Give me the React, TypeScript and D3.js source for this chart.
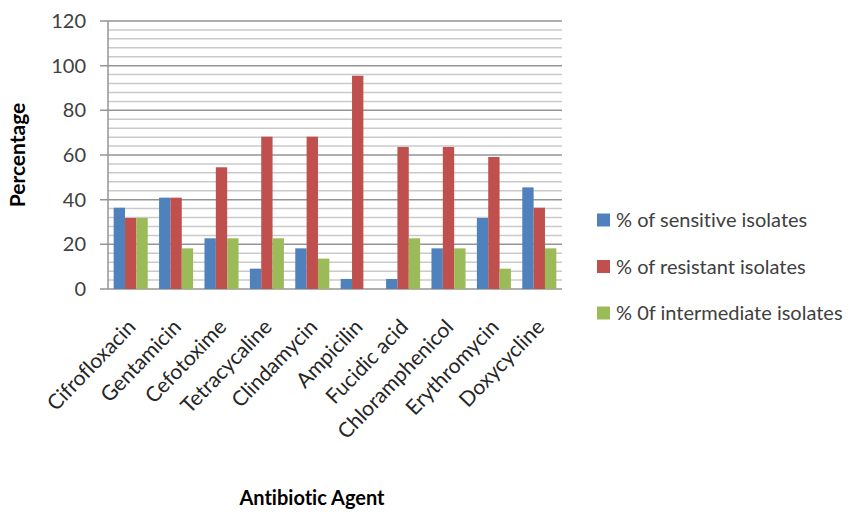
import React, { useRef, useEffect } from 'react';
import * as d3 from 'd3';

const agents = [
  'Cifrofloxacin', 'Gentamicin', 'Cefotoxime', 'Tetracycaline', 'Clindamycin',
  'Ampicilin', 'Fucidic acid', 'Chloramphenicol', 'Erythromycin', 'Doxycycline',
];
const sensitive = [36.4, 40.9, 22.7, 9.1, 18.2, 4.5, 4.5, 18.2, 31.8, 45.5];
const resistant = [31.8, 40.9, 54.5, 68.2, 68.2, 95.5, 63.6, 63.6, 59.1, 36.4];
const intermediate = [31.8, 18.2, 22.7, 22.7, 13.6, 0, 22.7, 18.2, 9.1, 18.2];
const seriesNames = ['% of sensitive isolates', '% of resistant isolates', '% 0f intermediate isolates'];
const seriesColors = ['#4F81BD', '#C0504D', '#9BBB59'];
const yTicks = [0, 20, 40, 60, 80, 100, 120];

const W = 858;
const H = 512;
const FONT = 'Lato, "Open Sans", sans-serif';

export default function App() {
  const svgRef = useRef<SVGSVGElement>(null);

  useEffect(() => {
    if (!svgRef.current) return;
    const svg = d3.select(svgRef.current);
    svg.selectAll('*').remove();

    const left = 108, right = 562, top = 21, bottom = 289;
    const x = d3.scaleBand<string>().domain(agents).range([left, right]);
    const y = d3.scaleLinear().domain([0, 120]).range([bottom, top]);
    const series = [sensitive, resistant, intermediate];
    const inner = d3.scaleBand<number>().domain([0, 1, 2])
      .range([0, x.bandwidth()]).paddingOuter(0.5);

    // minor grid every 4
    const minor = d3.range(0, 121, 4).filter((v) => v % 20 !== 0);
    svg.append('g').selectAll('line').data(minor).enter().append('line')
      .attr('x1', left).attr('x2', right)
      .attr('y1', (d) => y(d)).attr('y2', (d) => y(d))
      .attr('stroke', '#cacaca').attr('stroke-width', 1.5);

    // major grid + ticks
    svg.append('g').selectAll('line').data(yTicks).enter().append('line')
      .attr('x1', left - 8).attr('x2', right)
      .attr('y1', (d) => y(d)).attr('y2', (d) => y(d))
      .attr('stroke', '#959595').attr('stroke-width', 1.5);

    svg.append('line')
      .attr('x1', left).attr('x2', left).attr('y1', top).attr('y2', bottom)
      .attr('stroke', '#959595').attr('stroke-width', 1.5);

    svg.append('g').selectAll('text').data(yTicks).enter().append('text')
      .attr('x', 86).attr('y', (d) => y(d)).attr('dy', '0.35em')
      .attr('text-anchor', 'end').attr('font-family', FONT)
      .attr('font-size', 20).attr('fill', '#404040')
      .text((d) => d);

    // bars
    series.forEach((vals, si) => {
      svg.append('g').selectAll('rect').data(vals).enter().append('rect')
        .attr('x', (_, i) => (x(agents[i]) as number) + (inner(si) as number))
        .attr('width', inner.bandwidth())
        .attr('y', (d) => y(d))
        .attr('height', (d) => bottom - y(d))
        .attr('fill', seriesColors[si]);
    });

    // x labels
    svg.append('g').selectAll('text').data(agents).enter().append('text')
      .attr('transform', (d) => `translate(${(x(d) as number) + x.bandwidth() / 2 + 1},${bottom + 34}) rotate(-46)`)
      .attr('text-anchor', 'end').attr('dy', '0.35em')
      .attr('font-family', FONT).attr('font-size', 21).attr('fill', '#262626')
      .text((d) => d);

    svg.append('text')
      .attr('x', 312).attr('y', 498).attr('dy', '0.35em').attr('text-anchor', 'middle')
      .attr('font-family', FONT).attr('font-size', 20).attr('font-weight', 'bold')
      .attr('fill', '#000').text('Antibiotic Agent');

    svg.append('text')
      .attr('transform', `translate(25,${155}) rotate(-90)`)
      .attr('text-anchor', 'middle')
      .attr('font-family', FONT).attr('font-size', 21).attr('font-weight', 'bold')
      .attr('fill', '#000').text('Percentage');

    // legend
    const legend = svg.append('g');
    seriesNames.forEach((name, i) => {
      const row = legend.append('g').attr('transform', `translate(597,${220 + i * 46.5})`);
      row.append('rect').attr('x', 0).attr('y', -6.5).attr('width', 13).attr('height', 13)
        .attr('fill', seriesColors[i]);
      row.append('text').attr('x', 19).attr('dy', '0.35em')
        .attr('font-family', FONT).attr('font-size', 20).attr('fill', '#404040')
        .text(name);
    });

    svg.selectAll('text').style('font-variant-ligatures', 'none');
  }, []);

  return (
    <svg ref={svgRef} width={W} height={H}
      style={{ position: 'absolute', left: 0, top: 0, background: '#fff' }} />
  );
}
